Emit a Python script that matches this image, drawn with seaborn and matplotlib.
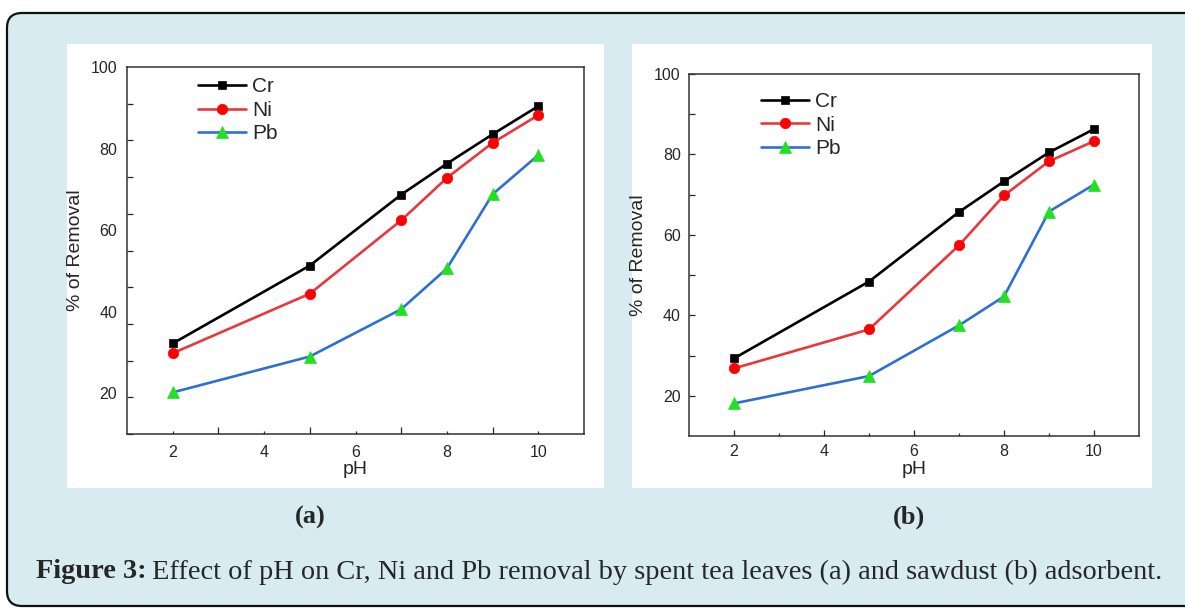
import numpy as np
import pandas as pd
import matplotlib
matplotlib.use("Agg")
import matplotlib.pyplot as plt
from matplotlib.patches import FancyBboxPatch, Rectangle
from matplotlib.ticker import FixedLocator
import seaborn as sns

# ---------------------------------------------------------------------------
# data (% removal vs pH)
# ---------------------------------------------------------------------------
ph = [2, 5, 7, 8, 9, 10]
metals = ["Cr", "Ni", "Pb"]

# (a) spent tea leaves
tea_cr = [32.2, 51.3, 68.7, 76.3, 83.5, 90.4]
tea_ni = [29.8, 44.4, 62.4, 72.8, 81.4, 88.2]
tea_pb = [20.2, 29.0, 40.6, 50.6, 68.8, 78.4]

# (b) sawdust
saw_cr = [29.3, 48.4, 65.7, 73.3, 80.5, 86.3]
saw_ni = [26.8, 36.5, 57.4, 69.8, 78.3, 83.3]
saw_pb = [18.1, 24.9, 37.5, 44.7, 65.8, 72.5]

y_labels = [20, 40, 60, 80, 100]
x_labels = [2, 4, 6, 8, 10]

line_colors = {"Cr": "#000000", "Ni": "#e8383d", "Pb": "#2f6fd4"}
marker_colors = {"Cr": "#000000", "Ni": "#ff0000", "Pb": "#22e022"}
marker_shapes = {"Cr": "s", "Ni": "o", "Pb": "^"}
marker_sizes = {"Cr": 6.3, "Ni": 7.5, "Pb": 8.5}

BG = "#d7ebf1"
W, H = 1185, 610

sns.set_style("ticks")
plt.rcParams["font.family"] = ["Liberation Sans", "DejaVu Sans"]


def to_long(cr, ni, pb):
    return pd.DataFrame({
        "pH": ph * 3,
        "removal": cr + ni + pb,
        "metal": [m for m in metals for _ in ph],
    })


def draw_panel(ax, df):
    for metal in metals:
        sub = df[df["metal"] == metal]
        sns.lineplot(data=sub, x="pH", y="removal", ax=ax, label=metal,
                     color=line_colors[metal], linewidth=1.9,
                     marker=marker_shapes[metal], markersize=marker_sizes[metal],
                     markerfacecolor=marker_colors[metal],
                     markeredgecolor=marker_colors[metal], markeredgewidth=0.5)
    ax.set_xlim(1, 11)
    ax.set_ylim(10, 100)
    ax.set_xlabel("pH", fontsize=14, labelpad=1)
    ax.set_ylabel("% of Removal", fontsize=14, labelpad=5)
    for s in ax.spines.values():
        s.set_visible(True)
        s.set_linewidth(1.1)
        s.set_color("#333333")
    ax.set_facecolor("white")


fig = plt.figure(figsize=(W / 100, H / 100), dpi=100)
fig.patch.set_facecolor("white")

# rounded caption box and white panels (pixel -> inch)
box = FancyBboxPatch((7 / 100, (H - 606) / 100), (1200 - 7) / 100, (606 - 13) / 100,
                     boxstyle="round,pad=0,rounding_size=0.15",
                     transform=fig.dpi_scale_trans, facecolor=BG,
                     edgecolor="#111111", linewidth=1.6, zorder=-2)
fig.patches.append(box)
for x0, x1 in [(67, 604), (632, 1152)]:
    fig.patches.append(Rectangle((x0 / 100, (H - 488) / 100), (x1 - x0) / 100, (488 - 44) / 100,
                                 transform=fig.dpi_scale_trans, facecolor="white",
                                 edgecolor="none", zorder=-1))

ax1 = fig.add_axes([127 / W, (H - 434) / H, 457 / W, 367 / H])
ax2 = fig.add_axes([689 / W, (H - 436) / H, 450 / W, 362 / H])

draw_panel(ax1, to_long(tea_cr, tea_ni, tea_pb))
draw_panel(ax2, to_long(saw_cr, saw_ni, saw_pb))

# panel (a): y tick marks in 10 equal steps, labels offset from them
ax1.set_yticks(y_labels)
ax1.yaxis.set_minor_locator(FixedLocator(np.linspace(10, 100, 11)))
ax1.tick_params(axis="y", which="major", length=0, pad=7, labelsize=11.5)
ax1.tick_params(axis="y", which="minor", direction="in", length=4.5, width=0.9)
ax1.set_xticks(x_labels)
ax1.xaxis.set_minor_locator(FixedLocator([3, 5, 7, 9]))
ax1.tick_params(axis="x", which="major", direction="in", length=2.5, width=0.9, pad=8, labelsize=11.5)
ax1.tick_params(axis="x", which="minor", direction="in", length=5, width=0.9)

# panel (b): regular ticks
ax2.set_yticks(y_labels)
ax2.yaxis.set_minor_locator(FixedLocator([30, 50, 70, 90]))
ax2.tick_params(axis="y", which="major", direction="in", length=4.5, width=0.9, pad=6, labelsize=11.5)
ax2.tick_params(axis="y", which="minor", direction="in", length=4.5, width=0.9)
ax2.set_xticks(x_labels)
ax2.xaxis.set_minor_locator(FixedLocator([3, 5, 7, 9]))
ax2.tick_params(axis="x", which="major", direction="in", length=4, width=0.9, pad=6, labelsize=11.5)
ax2.tick_params(axis="x", which="minor", direction="in", length=2, width=0.9)

for ax, anchor in [(ax1, (0.155, 0.972)), (ax2, (0.16, 0.95))]:
    ax.legend(loc="upper left", bbox_to_anchor=anchor, frameon=False, fontsize=15,
              handlelength=2.3, handletextpad=0.3, labelspacing=0.22,
              borderpad=0, borderaxespad=0)

# captions
serif = ["Liberation Serif", "DejaVu Serif"]
fig.text(310 / W, 1 - 517 / H, "(a)", ha="center", va="center", fontsize=19,
         fontweight="bold", family=serif)
fig.text(909 / W, 1 - 517 / H, "(b)", ha="center", va="center", fontsize=19,
         fontweight="bold", family=serif)
cap = fig.text(36 / W, 1 - 572 / H, "Figure 3:", ha="left", va="center", fontsize=20.4,
               fontweight="bold", family=serif)
fig.canvas.draw()
bb = cap.get_window_extent()
fig.text(bb.x1 / W + 5 / W, 1 - 572 / H,
         "Effect of pH on Cr, Ni and Pb removal by spent tea leaves (a) and sawdust (b) adsorbent.",
         ha="left", va="center", fontsize=20.4, family=serif)

fig.savefig("out.png", dpi=100, facecolor=fig.get_facecolor())
